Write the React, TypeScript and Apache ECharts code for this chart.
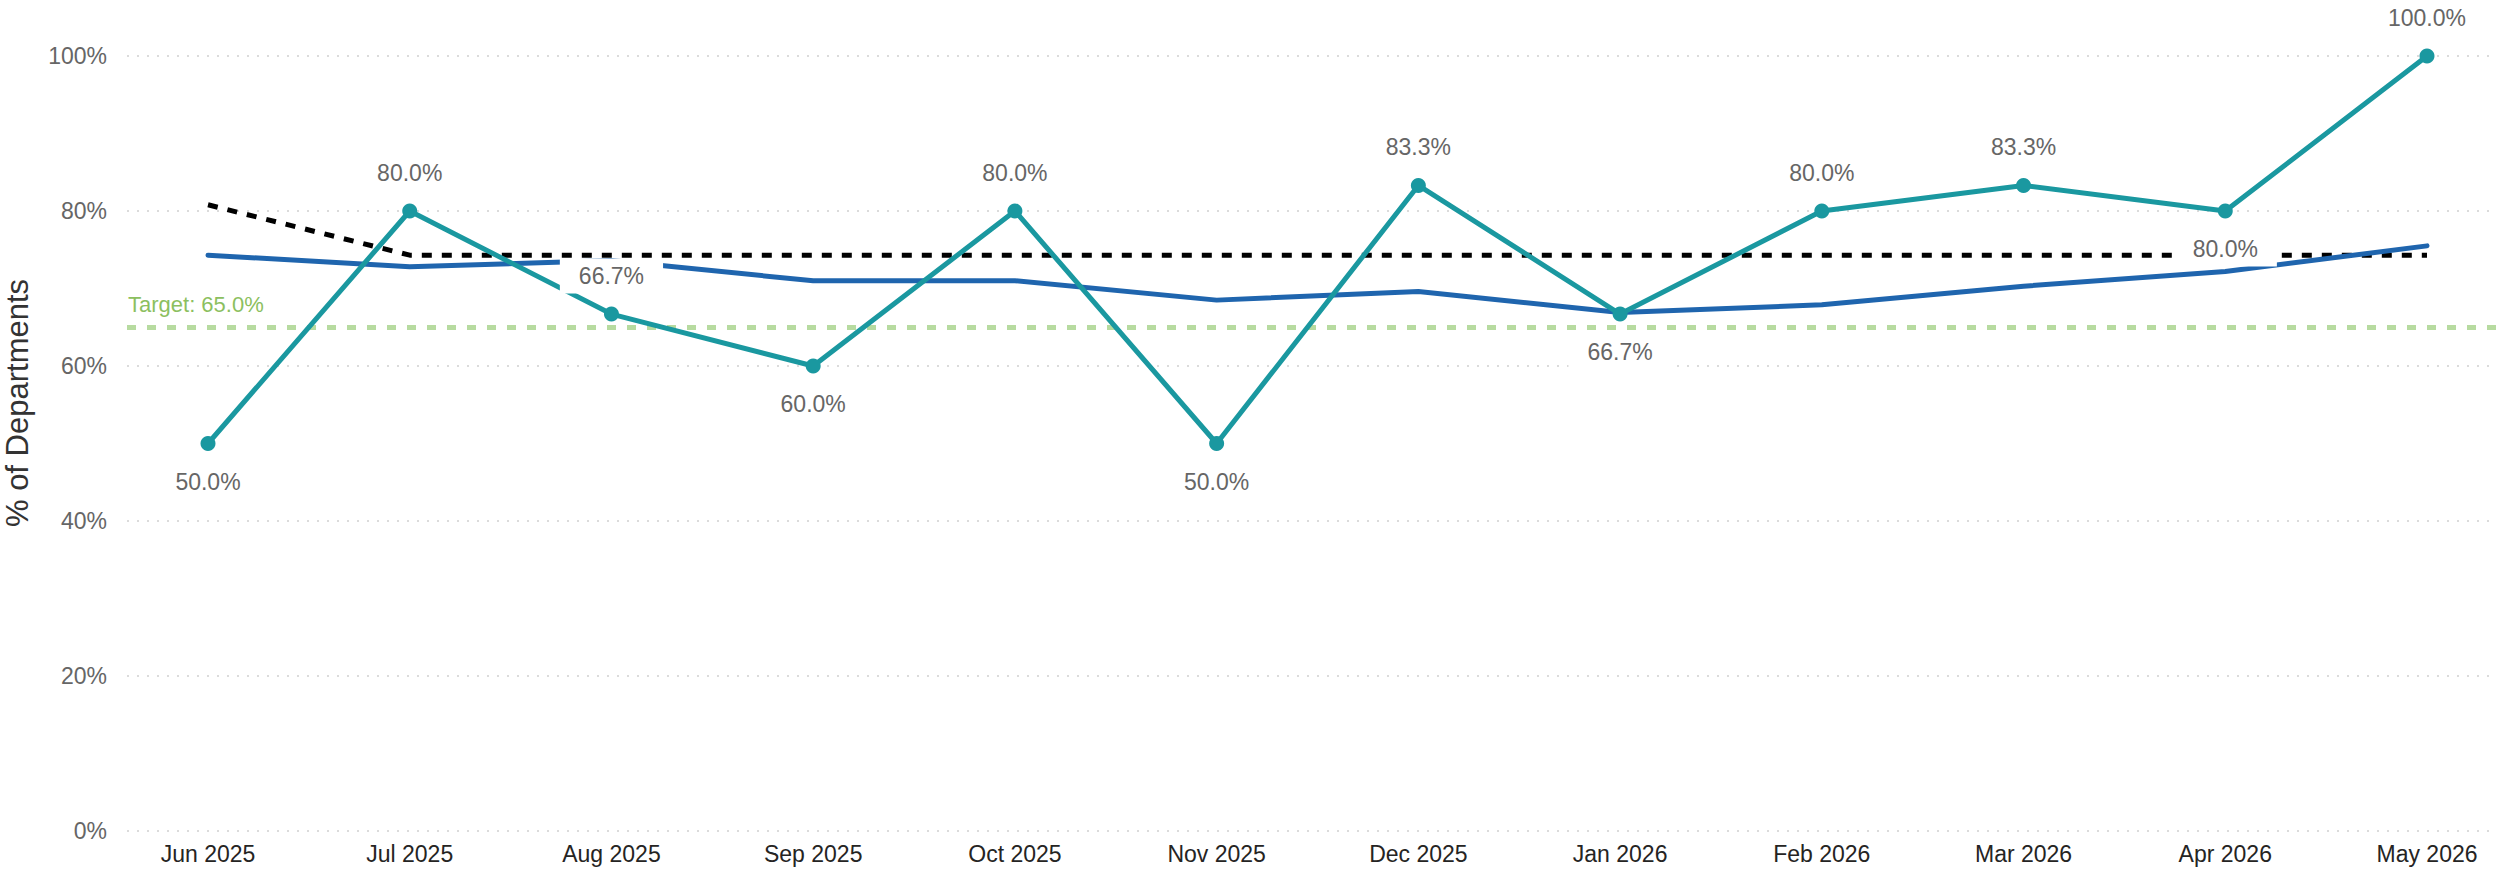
import React, { useEffect, useRef } from "react";
import * as echarts from "echarts";

const months = [
  "Jun 2025", "Jul 2025", "Aug 2025", "Sep 2025", "Oct 2025", "Nov 2025",
  "Dec 2025", "Jan 2026", "Feb 2026", "Mar 2026", "Apr 2026", "May 2026",
];
const actual = [50, 80, 66.7, 60, 80, 50, 83.3, 66.7, 80, 83.3, 80, 100];
const labelPositions = ["bottom", "top", "top", "bottom", "top", "bottom", "top", "bottom", "top", "top", "bottom", "top"];
const rollingAverage = [74.3, 72.8, 73.6, 71.0, 71.0, 68.5, 69.6, 66.9, 67.9, 70.3, 72.2, 75.5];
const benchmark = [80.8, 74.3, 74.3, 74.3, 74.3, 74.3, 74.3, 74.3, 74.3, 74.3, 74.3, 74.3];
const target = 65;
const yMin = 0;
const yMax = 100;
const yStep = 20;

const FONT = "'Liberation Sans', Arial, sans-serif";

export default function App() {
  const ref = useRef<HTMLDivElement>(null);
  useEffect(() => {
    if (!ref.current) return;
    const chart = echarts.init(ref.current, undefined, { renderer: "svg" });
    const top = 56;
    const bottom = 41;
    chart.setOption({
      animation: false,
      backgroundColor: "#ffffff",
      grid: [
        { left: 127, right: 0, top, bottom },
        { left: 208, right: 69, top, bottom },
      ],
      xAxis: [
        { gridIndex: 0, type: "value", min: 0, max: 1, show: false },
        {
          gridIndex: 1,
          type: "category",
          data: months,
          boundaryGap: false,
          axisLine: { show: false },
          axisTick: { show: false },
          axisLabel: { interval: 0, margin: 11, fontSize: 23, color: "#252423", fontFamily: FONT },
          splitLine: { show: false },
        },
      ],
      yAxis: [
        {
          gridIndex: 0,
          type: "value",
          min: yMin,
          max: yMax,
          interval: yStep,
          axisLine: { show: false },
          axisTick: { show: false },
          axisLabel: { formatter: "{value}%", margin: 20, fontSize: 23, color: "#666666", fontFamily: FONT },
          splitLine: { show: true, lineStyle: { color: "#cfcfcf", width: 1.5, type: [2, 8] } },
        },
        {
          gridIndex: 1,
          type: "value",
          min: yMin,
          max: yMax,
          interval: yStep,
          show: false,
          splitLine: { show: false },
        },
      ],
      graphic: [
        {
          type: "text",
          x: 17,
          y: 403,
          rotation: Math.PI / 2,
          style: {
            text: "% of Departments",
            font: `31px ${FONT}`,
            fill: "#333333",
            textAlign: "center",
            textVerticalAlign: "middle",
          },
        },
      ],
      series: [
        {
          name: "Target",
          type: "line",
          xAxisIndex: 0,
          yAxisIndex: 0,
          data: [],
          z: 1,
          markLine: {
            silent: true,
            symbol: "none",
            lineStyle: { color: "#b7dba0", width: 5, type: [9, 11] },
            label: {
              show: true,
              position: "insideStartTop",
              formatter: () => `Target: ${target.toFixed(1)}%`,
              color: "#8cbf5f",
              fontSize: 22,
              fontFamily: FONT,
              distance: [1, 12],
            },
            data: [{ yAxis: target }],
          },
        },
        {
          name: "Benchmark",
          type: "line",
          xAxisIndex: 1,
          yAxisIndex: 1,
          data: benchmark,
          symbol: "none",
          z: 2,
          lineStyle: { color: "#000000", width: 5, type: [10, 10] },
        },
        {
          name: "Rolling average",
          type: "line",
          xAxisIndex: 1,
          yAxisIndex: 1,
          data: rollingAverage,
          symbol: "none",
          z: 3,
          lineStyle: { color: "#1f65ae", width: 5, cap: "round" },
        },
        {
          name: "% of Departments",
          type: "line",
          xAxisIndex: 1,
          yAxisIndex: 1,
          data: actual.map((v, i) => ({ value: v, label: { position: labelPositions[i] } })),
          symbol: "circle",
          symbolSize: 15,
          z: 5,
          itemStyle: { color: "#1a98a0" },
          lineStyle: { color: "#1a98a0", width: 5 },
          label: {
            show: true,
            formatter: (p: any) => `${Number(p.value).toFixed(1)}%`,
            fontSize: 23,
            lineHeight: 23,
            color: "#666666",
            fontFamily: FONT,
            backgroundColor: "#ffffff",
            padding: [6, 19],
            distance: 13,
          },
        },
      ],
    });
    return () => chart.dispose();
  }, []);
  return (
    <div
      ref={ref}
      style={{ position: "fixed", left: 0, top: 0, width: 2496, height: 872, background: "#fff" }}
    />
  );
}
